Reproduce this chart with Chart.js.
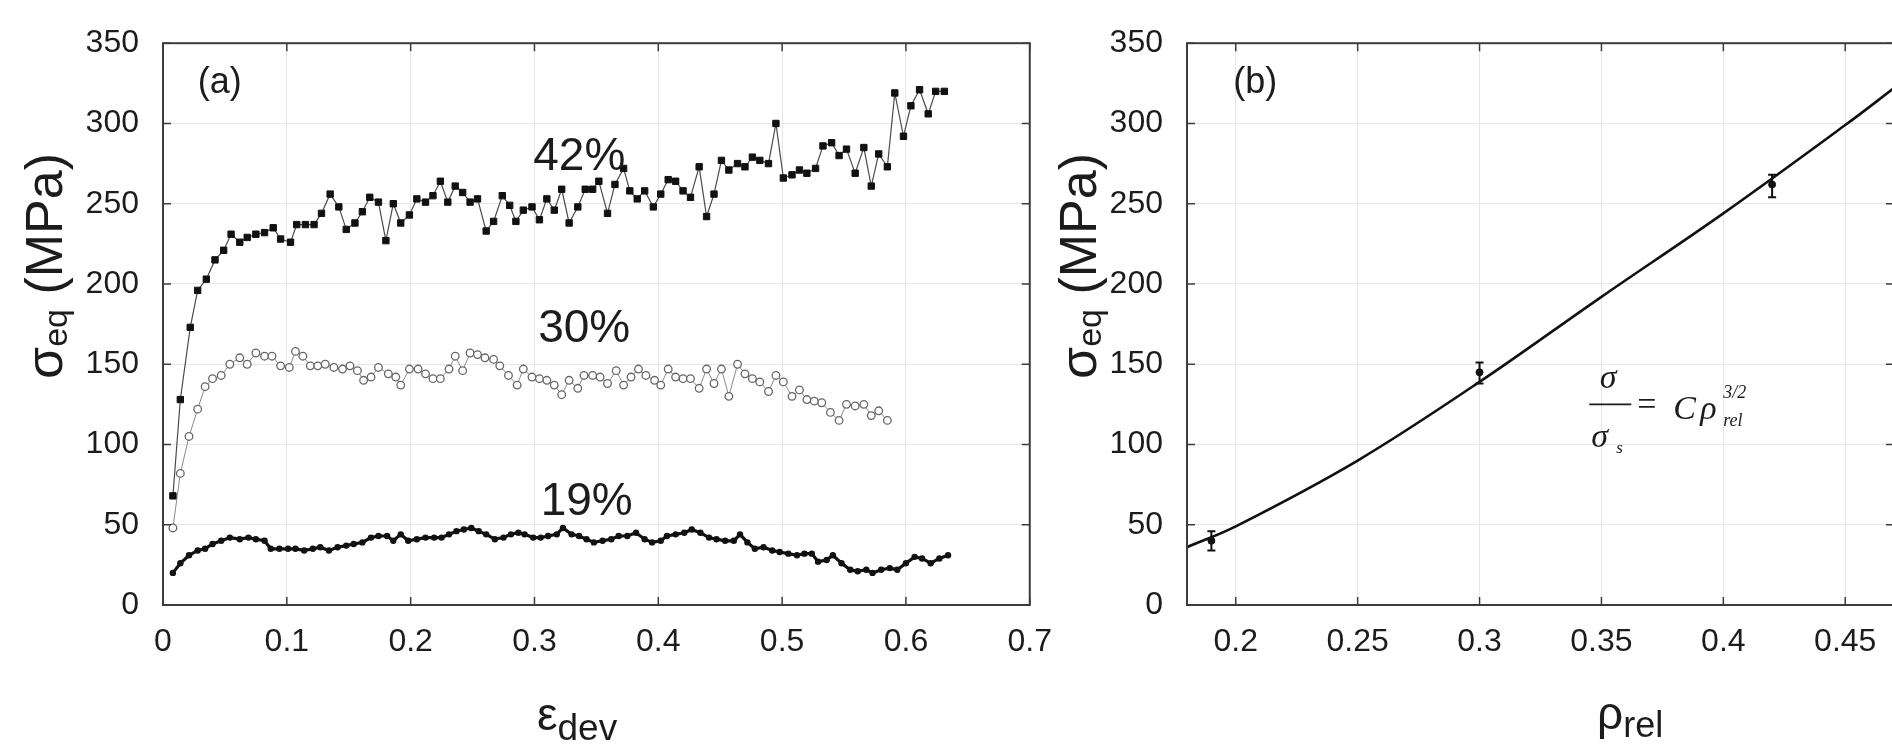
<!DOCTYPE html>
<html>
<head>
<meta charset="utf-8">
<script src="https://cdn.jsdelivr.net/npm/chart.js@4.4.1/dist/chart.umd.min.js"></script>
<style>
  html, body { margin: 0; padding: 0; background: #fff; overflow: hidden; width: 1892px; height: 750px; }
  canvas { position: absolute; top: 0; }
  #chartA { left: 0; }
  #chartB { left: 1040px; }
</style>
</head>
<body>
<canvas id="chartA" width="1070" height="750"></canvas>
<canvas id="chartB" width="860" height="750"></canvas>
<script>
// panel (a): stress vs deviatoric strain, three densities
const eps42 = [0.008,0.014,0.022,0.028,0.035,0.042,0.049,0.055,0.062,0.068,0.075,0.082,0.089,0.095,0.103,0.108,0.115,0.122,0.128,0.135,
  0.142,0.148,0.155,0.161,0.167,0.174,0.180,0.186,0.192,0.199,0.205,0.212,0.218,0.224,0.230,0.236,0.242,0.248,0.254,0.261,
  0.267,0.274,0.280,0.285,0.291,0.298,0.304,0.310,0.316,0.322,0.328,0.335,0.341,0.347,0.352,0.359,0.365,0.372,0.377,0.383,
  0.389,0.396,0.402,0.408,0.414,0.420,0.426,0.433,0.439,0.445,0.451,0.457,0.464,0.470,0.476,0.482,0.489,0.495,0.501,0.508,
  0.514,0.520,0.527,0.533,0.540,0.546,0.552,0.559,0.566,0.572,0.578,0.585,0.591,0.598,0.604,0.611,0.618,0.624,0.631];
const sig42 = [68,128,173,196,203,215,221,231,226,229,231,232,235,228,226,237,237,237,244,256,
  248,234,238,245,254,251,227,250,238,243,253,251,255,264,251,261,257,251,253,233,
  239,255,249,239,246,248,240,253,246,259,238,248,259,259,264,244,262,272,258,253,
  258,248,256,265,264,258,254,273,242,256,277,271,275,273,279,277,275,300,266,268,
  271,269,272,286,288,280,284,269,285,261,281,273,319,292,311,321,306,320,320];

const eps30 = [0.008,0.014,0.021,0.028,0.034,0.040,0.047,0.054,0.062,0.068,0.075,0.082,0.088,0.095,0.102,0.107,0.113,0.119,0.125,0.131,
  0.138,0.145,0.151,0.157,0.162,0.168,0.174,0.182,0.188,0.192,0.199,0.206,0.212,0.218,0.224,0.231,0.236,0.242,0.248,0.254,
  0.260,0.267,0.272,0.279,0.286,0.291,0.298,0.304,0.310,0.316,0.322,0.328,0.335,0.340,0.347,0.353,0.359,0.366,0.372,0.378,
  0.384,0.390,0.397,0.402,0.408,0.414,0.420,0.426,0.433,0.439,0.445,0.451,0.457,0.464,0.470,0.476,0.482,0.489,0.495,0.501,
  0.508,0.514,0.520,0.526,0.532,0.539,0.546,0.552,0.559,0.566,0.572,0.578,0.585];
const sig30 = [48,82,105,122,136,141,143,150,154,150,157,155,155,149,148,158,155,149,149,150,
  148,147,149,146,140,142,148,144,142,137,147,147,144,141,141,147,155,146,157,156,
  154,153,149,143,137,147,142,141,140,137,131,140,135,143,143,142,138,146,137,142,
  147,143,140,137,147,142,141,141,135,147,138,147,130,150,144,141,139,133,143,139,
  130,134,128,127,126,120,115,125,124,125,118,121,115];

const eps19 = [0.008,0.014,0.021,0.028,0.034,0.040,0.047,0.054,0.062,0.069,0.075,0.082,0.087,0.094,0.101,0.107,0.114,0.121,0.127,0.134,
  0.141,0.148,0.154,0.161,0.168,0.174,0.181,0.186,0.192,0.198,0.205,0.212,0.219,0.225,0.231,0.237,0.243,0.249,0.255,0.261,
  0.268,0.275,0.281,0.287,0.292,0.299,0.305,0.311,0.318,0.323,0.330,0.336,0.342,0.348,0.355,0.362,0.368,0.375,0.382,0.389,
  0.395,0.402,0.407,0.414,0.421,0.427,0.434,0.441,0.447,0.454,0.461,0.466,0.472,0.478,0.485,0.492,0.498,0.505,0.512,0.518,
  0.524,0.529,0.536,0.541,0.548,0.555,0.561,0.568,0.573,0.580,0.587,0.593,0.600,0.607,0.613,0.620,0.627,0.634];
const sig19 = [20,26,31,34,35,38,40,42,41,42,41,40,35,35,35,35,34,35,36,34,
  36,37,38,39,42,43,43,40,44,40,41,42,42,42,44,46,47,48,46,44,
  41,42,44,45,44,42,42,43,44,48,44,43,41,39,40,41,43,43,45,41,
  39,40,43,44,45,47,45,42,41,40,40,44,39,35,36,34,33,32,31,32,
  32,27,28,31,26,22,21,22,20,22,23,22,26,30,29,26,29,31];

// panel (b): stress vs relative density
const rhoFit = [0.18, 0.20, 0.25, 0.30, 0.35, 0.40, 0.45, 0.47];
const sigFit = [36, 49, 90, 139, 192, 244, 299, 322];
const rhoPts = [0.19, 0.30, 0.42];
const sigPts = [40, 145, 262];
const sigLo = [34, 138, 254];
const sigHi = [46, 151, 268];

const xTicksA = [0, 0.1, 0.2, 0.3, 0.4, 0.5, 0.6, 0.7];
const xTicksB = [0.2, 0.25, 0.3, 0.35, 0.4, 0.45];
const yTicks = [0, 50, 100, 150, 200, 250, 300, 350];

const SANS = "'Liberation Sans', Arial, Helvetica, sans-serif";
const SERIF = "'Liberation Serif', 'Times New Roman', serif";
const INK = '#1c1c1c';

const pairs = (xs, ys) => xs.map((x, i) => ({ x: x, y: ys[i] }));

// draw a run of text pieces (main + subscript) starting at x, baseline y
function runText(ctx, parts, x, y, family) {
  let cx = x;
  parts.forEach(p => {
    ctx.font = (p.style || '') + ' ' + p.size + 'px ' + (p.family || family);
    ctx.fillText(p.t, cx, y + (p.dy || 0));
    cx += ctx.measureText(p.t).width;
  });
}
function runWidth(ctx, parts, family) {
  let w = 0;
  parts.forEach(p => {
    ctx.font = (p.style || '') + ' ' + p.size + 'px ' + (p.family || family);
    w += ctx.measureText(p.t).width;
  });
  return w;
}

const decor = {
  id: 'decor',
  afterDraw(chart, args, o) {
    const ctx = chart.ctx, a = chart.chartArea;
    const xs = chart.scales.x, ys = chart.scales.y;
    ctx.save();
    // frame and inward ticks
    ctx.strokeStyle = '#3c3c3c';
    ctx.lineWidth = 2;
    ctx.strokeRect(a.left, a.top, a.right - a.left, a.bottom - a.top);
    ctx.lineWidth = 1.5;
    ctx.beginPath();
    xs.ticks.forEach(t => {
      const px = xs.getPixelForValue(t.value);
      ctx.moveTo(px, a.bottom); ctx.lineTo(px, a.bottom - 8);
      ctx.moveTo(px, a.top); ctx.lineTo(px, a.top + 8);
    });
    ys.ticks.forEach(t => {
      const py = ys.getPixelForValue(t.value);
      ctx.moveTo(a.left, py); ctx.lineTo(a.left + 8, py);
      ctx.moveTo(a.right, py); ctx.lineTo(a.right - 8, py);
    });
    ctx.stroke();

    ctx.fillStyle = INK;
    ctx.textBaseline = 'alphabetic';
    ctx.textAlign = 'left';

    // y title, rotated
    const yParts = [{ t: 'σ', size: 52 }, { t: 'eq', size: 34, dy: 5 }, { t: ' (MPa)', size: 52 }];
    ctx.save();
    ctx.translate(o.yTitle.x, o.yTitle.y);
    ctx.rotate(-Math.PI / 2);
    runText(ctx, yParts, -runWidth(ctx, yParts, SANS) / 2, 0, SANS);
    ctx.restore();

    // x title
    runText(ctx, o.xTitle.parts, o.xTitle.x, o.xTitle.y, SANS);

    // in-plot labels anchored on the scales
    o.notes.forEach(n => {
      ctx.font = n.size + 'px ' + SANS;
      ctx.fillText(n.text, xs.getPixelForValue(n.x), ys.getPixelForValue(n.y));
    });

    // formula
    if (o.formula) {
      const fx = xs.getPixelForValue(o.formula.x), fy = ys.getPixelForValue(o.formula.y);
      ctx.font = 'italic 34px ' + SERIF;
      ctx.textAlign = 'center';
      ctx.fillText('σ', fx + 19, fy - 16);
      ctx.textAlign = 'left';
      ctx.fillText('σ', fx + 2, fy + 43);
      ctx.font = 'italic 17px ' + SERIF;
      ctx.fillText('s', fx + 27, fy + 49);
      ctx.lineWidth = 1.6;
      ctx.strokeStyle = INK;
      ctx.beginPath(); ctx.moveTo(fx, fy); ctx.lineTo(fx + 42, fy); ctx.stroke();
      ctx.font = '34px ' + SERIF;
      ctx.fillText('=', fx + 48, fy + 11);
      ctx.font = 'italic 34px ' + SERIF;
      ctx.fillText('C', fx + 84, fy + 15);
      ctx.fillText('ρ', fx + 111, fy + 15);
      ctx.font = 'italic 18px ' + SERIF;
      ctx.fillText('3/2', fx + 134, fy - 6);
      ctx.fillText('rel', fx + 134, fy + 22);
    }
    ctx.restore();
  }
};

function axisX(min, max, list, h) {
  return {
    type: 'linear', min: min, max: max,
    afterBuildTicks: ax => { ax.ticks = list.map(v => ({ value: v })); },
    afterFit: s => { s.height = h; },
    grid: { color: '#e6e6e6', lineWidth: 1, drawTicks: false },
    border: { display: false },
    ticks: { color: INK, padding: 18, maxRotation: 0, autoSkip: false,
      font: { family: SANS, size: 32 }, callback: v => String(v) }
  };
}
function axisY(w) {
  return {
    type: 'linear', min: 0, max: 350,
    afterBuildTicks: ax => { ax.ticks = yTicks.map(v => ({ value: v })); },
    afterFit: s => { s.width = w; },
    grid: { color: '#e6e6e6', lineWidth: 1, drawTicks: false },
    border: { display: false },
    ticks: { color: INK, padding: 24, font: { family: SANS, size: 32 }, callback: v => String(v) }
  };
}

new Chart(document.getElementById('chartA'), {
  type: 'line',
  data: {
    datasets: [
      {
        label: '42%', data: pairs(eps42, sig42),
        borderColor: '#4a4a4a', borderWidth: 1.2,
        pointStyle: 'rect', pointRadius: 4.5,
        pointBackgroundColor: '#111', pointBorderColor: '#111', pointBorderWidth: 1
      },
      {
        label: '30%', data: pairs(eps30, sig30),
        borderColor: '#8a8a8a', borderWidth: 1,
        pointStyle: 'circle', pointRadius: 3.8,
        pointBackgroundColor: '#fff', pointBorderColor: '#666', pointBorderWidth: 1.3
      },
      {
        label: '19%', data: pairs(eps19, sig19),
        borderColor: '#111', borderWidth: 3.2,
        pointStyle: 'circle', pointRadius: 3.2,
        pointBackgroundColor: '#111', pointBorderColor: '#111', pointBorderWidth: 0
      }
    ]
  },
  options: {
    responsive: false, animation: false,
    layout: { padding: { top: 30, right: 38, left: 0, bottom: 0 } },
    plugins: {
      legend: { display: false }, tooltip: { enabled: false },
      decor: {
        yTitle: { x: 62, y: 266 },
        xTitle: { x: 537, y: 730, parts: [{ t: 'ε', size: 46 }, { t: 'dev', size: 37, dy: 10 }] },
        notes: [
          { text: '(a)', x: 0.028, y: 319, size: 36 },
          { text: '42%', x: 0.299, y: 271, size: 46 },
          { text: '30%', x: 0.303, y: 164, size: 46 },
          { text: '19%', x: 0.305, y: 56, size: 46 }
        ]
      }
    },
    scales: { x: axisX(0, 0.7, xTicksA, 145), y: axisY(163) }
  },
  plugins: [decor]
});

const errSets = rhoPts.map((r, i) => ({
  data: [{ x: r, y: sigLo[i] }, { x: r, y: sigHi[i] }],
  borderColor: '#111', borderWidth: 2,
  pointStyle: 'line', pointRadius: 4, pointBorderColor: '#111', pointBorderWidth: 2
}));

new Chart(document.getElementById('chartB'), {
  type: 'line',
  data: {
    datasets: [
      {
        label: 'fit', data: pairs(rhoFit, sigFit),
        borderColor: '#111', borderWidth: 2.6, pointRadius: 0, tension: 0.35
      },
      {
        label: 'data', data: pairs(rhoPts, sigPts), showLine: false,
        pointStyle: 'circle', pointRadius: 3.5,
        pointBackgroundColor: '#111', pointBorderColor: '#111'
      }
    ].concat(errSets)
  },
  options: {
    responsive: false, animation: false,
    layout: { padding: { top: 30, right: 6, left: 0, bottom: 0 } },
    plugins: {
      legend: { display: false }, tooltip: { enabled: false },
      decor: {
        yTitle: { x: 56, y: 266 },
        xTitle: { x: 557, y: 729, parts: [{ t: 'ρ', size: 46 }, { t: 'rel', size: 36, dy: 8 }] },
        notes: [{ text: '(b)', x: 0.199, y: 319, size: 36 }],
        formula: { x: 0.345, y: 125 }
      }
    },
    scales: { x: axisX(0.18, 0.47, xTicksB, 145), y: axisY(147) }
  },
  plugins: [decor]
});
</script>
</body>
</html>
